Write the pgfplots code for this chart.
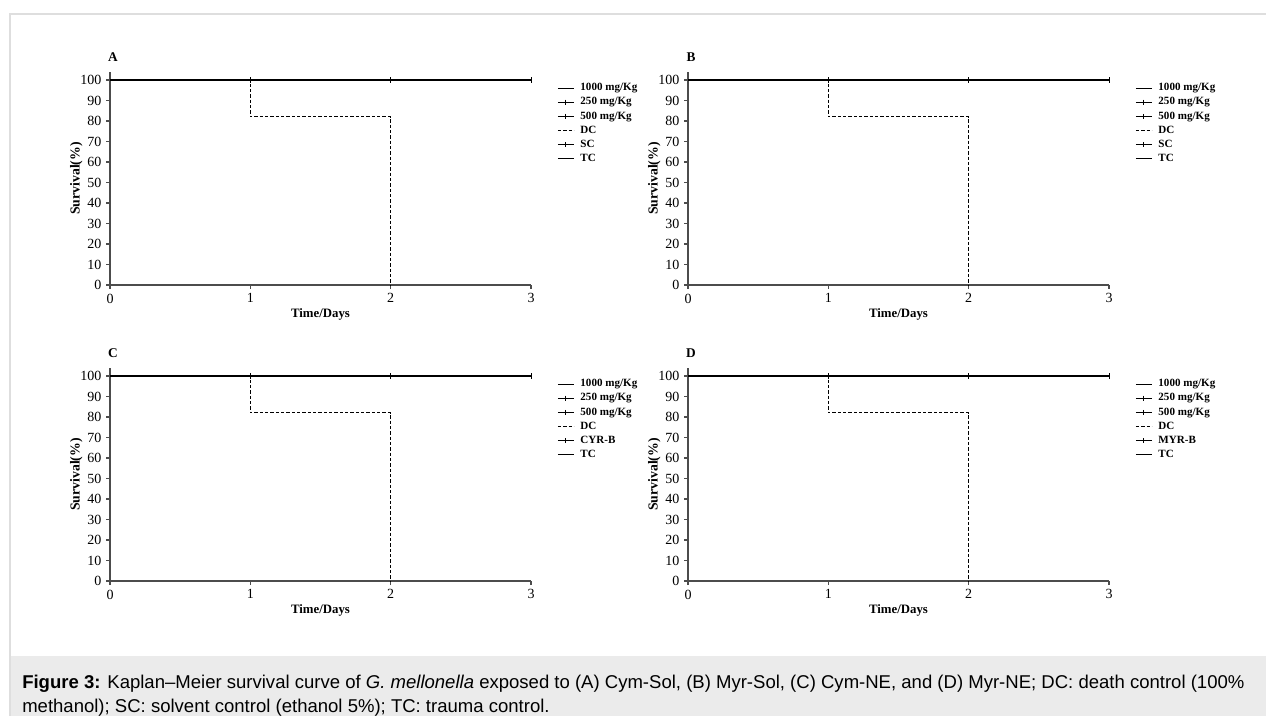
\documentclass[border=0pt]{standalone}
\usepackage{pgfplots}
\pgfplotsset{compat=1.18}
\usepackage{fontspec}
\setmainfont{Liberation Serif}
\newfontfamily\capfont[Ligatures=TeX]{Liberation Sans}
\pgfplotsset{
  km/.style={
    scale only axis, width=315.75pt, height=159.75pt,
    xmin=0, xmax=3, ymin=0, ymax=103.9,
    axis lines=left, axis line style={-,black!70,line width=0.9pt},
    tick align=outside, major tick length=3pt, tick style={black!70,line width=0.8pt},
    xtick={0,1,2,3}, ytick={0,10,...,100},
    ticklabel style={font=\fontsize{10.5}{12}\selectfont},
    /pgf/number format/assume math mode=true,
    xlabel={Time/Days}, ylabel={Survival(\%)},
    every axis x label/.style={at={(axis description cs:0.5,-0.136)},anchor=center,font=\bfseries\fontsize{9.6}{10}\selectfont},
    every axis y label/.style={at={(axis description cs:-0.08,0.5)},anchor=center,rotate=90,font=\bfseries\fontsize{10.3}{10}\selectfont},
    every axis title shift=0pt,
    title style={at={(axis description cs:0.007,1.07)},anchor=center,font=\bfseries\fontsize{10}{12}\selectfont},
    clip=false,
    legend style={draw=none, fill=none, at={(axis description cs:1.062,0.957)}, anchor=north west,
      font=\bfseries\fontsize{8.3}{10}\selectfont, row sep=0.6pt, inner sep=0pt,
      nodes={inner sep=1.5pt},
      /tikz/every odd column/.append style={column sep=3pt}},
    legend cell align=left,
    legend image code/.code={\draw[##1,mark repeat=2,mark phase=2] plot coordinates {(0pt,0pt)(6pt,0pt)(12pt,0pt)};},
  },
  sline/.style={black, line width=0.8pt, mark=none},
  cline/.style={black, line width=0.8pt, mark=|, mark size=1.9pt, mark options={solid,line width=0.7pt}},
  dline/.style={black, line width=0.8pt, mark=none, dash pattern=on 2.4pt off 1.6pt},
}
\newcommand{\kmpanel}[4]{%
\begin{axis}[km, at={#1}, anchor=origin, title={#2}]
\addplot[sline] coordinates {(0,100) (3,100)};
\addplot[cline] coordinates {(1,100) (2,100) (3,100)};
\addplot[cline] coordinates {(1,100) (2,100) (3,100)};
\addplot[dline] coordinates {(0,100) (1,100) (1,82) (2,82) (2,0)};
\addplot[#4] coordinates {(1,100) (2,100) (3,100)};
\addplot[sline] coordinates {(0,100) (3,100)};
\legend{1000 mg/Kg, 250 mg/Kg, 500 mg/Kg, DC, #3, TC}
\end{axis}}
\begin{document}
\begin{tikzpicture}[x=0.75pt,y=-0.75pt]
\path[use as bounding box] (0,0) rectangle (1266,716);
\fill[white] (0,0) rectangle (1266,716);
\fill[black!8] (10,656) rectangle (1266,716);
\draw[black!13, line width=1.2pt] (10,716) -- (10,14) -- (1266,14);
\coordinate (oA) at (110,285);
\coordinate (oB) at (688,285);
\coordinate (oC) at (110,581);
\coordinate (oD) at (688,581);
\kmpanel{(oA)}{A}{SC}{cline}
\kmpanel{(oB)}{B}{SC}{cline}
\kmpanel{(oC)}{C}{CYR-B}{cline}
\kmpanel{(oD)}{D}{MYR-B}{cline}
\node[anchor=base west, font=\capfont\fontsize{13.9}{17.6}\selectfont, align=left, inner sep=0pt] at (22,712)
 {\textbf{Figure 3:} Kaplan--Meier survival curve of \textit{G. mellonella} exposed to (A) Cym-Sol, (B) Myr-Sol, (C) Cym-NE, and (D) Myr-NE; DC: death control (100\%\\
 methanol); SC: solvent control (ethanol 5\%); TC: trauma control.};
\end{tikzpicture}
\end{document}
